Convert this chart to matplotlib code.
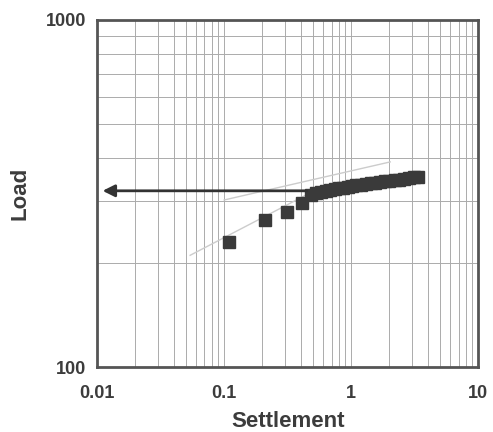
import numpy as np
import matplotlib.pyplot as plt
from matplotlib.ticker import LogLocator, NullFormatter, FixedLocator, FixedFormatter

# data
settlement = [0.11, 0.21, 0.31, 0.41, 0.48, 0.53, 0.58, 0.63, 0.68, 0.74, 0.80, 0.87,
              0.94, 1.02, 1.10, 1.20, 1.30, 1.42, 1.55, 1.70, 1.85, 2.00, 2.20,
              2.40, 2.60, 2.85, 3.10, 3.35]
load = [230, 265, 280, 297, 313, 317, 320, 322, 324, 326, 328, 329,
        331, 332, 334, 335, 337, 338, 340, 341, 343, 344, 346,
        347, 349, 350, 352, 353]

# faint tangent lines
tan1_x = [0.054, 0.47]
tan1_y = [210, 317]
tan2_x = [0.10, 2.03]
tan2_y = [303, 390]

# failure load arrow
arrow_load = 322
arrow_from = 0.47
arrow_to = 0.0105

txt = '#3c3c3c'

fig = plt.figure(figsize=(4.93, 4.32), dpi=100)
ax = fig.add_axes([0.197, 0.150, 0.773, 0.804])

ax.set_xscale('log')
ax.set_yscale('log')
ax.set_xlim(0.01, 10)
ax.set_ylim(100, 1000)

ax.xaxis.set_minor_locator(LogLocator(base=10, subs=np.arange(2, 10)))
ax.xaxis.set_minor_formatter(NullFormatter())
ax.set_xticks([0.01, 0.1, 1, 10])
ax.set_xticklabels(['0.01', '0.1', '1', '10'])

ax.yaxis.set_major_locator(FixedLocator([100, 1000]))
ax.yaxis.set_major_formatter(FixedFormatter(['100', '1000']))
ax.yaxis.set_minor_locator(LogLocator(base=10, subs=np.arange(2, 10)))
ax.yaxis.set_minor_formatter(NullFormatter())

ax.grid(True, which='both', color='#ababab', linewidth=0.7)
ax.set_axisbelow(True)
ax.tick_params(which='both', length=0)
ax.tick_params(axis='x', pad=13)
ax.tick_params(axis='y', pad=8)

for lab in ax.get_xticklabels() + ax.get_yticklabels():
    lab.set_fontfamily('Liberation Sans')
    lab.set_fontweight('bold')
    lab.set_fontsize(13)
    lab.set_color(txt)

for s in ax.spines.values():
    s.set_linewidth(2)
    s.set_color('#555555')

ax.plot(tan1_x, tan1_y, color='#cccccc', linewidth=1)
ax.plot(tan2_x, tan2_y, color='#cccccc', linewidth=1)

ax.plot(settlement, load, linestyle='none', marker='s', markersize=8.5,
        color='#3a3a3a', zorder=3)

ax.annotate('', xy=(arrow_to, arrow_load), xytext=(arrow_from, arrow_load),
            arrowprops=dict(arrowstyle='-|>', color='#333333', linewidth=2,
                            mutation_scale=18), zorder=4)

ax.set_xlabel('Settlement', fontfamily='Liberation Sans', fontweight='bold',
              fontsize=16, color=txt, labelpad=6)
ax.set_ylabel('Load', fontfamily='Liberation Sans', fontweight='bold',
              fontsize=16, color=txt, labelpad=11)

fig.savefig('out.png', dpi=100)
